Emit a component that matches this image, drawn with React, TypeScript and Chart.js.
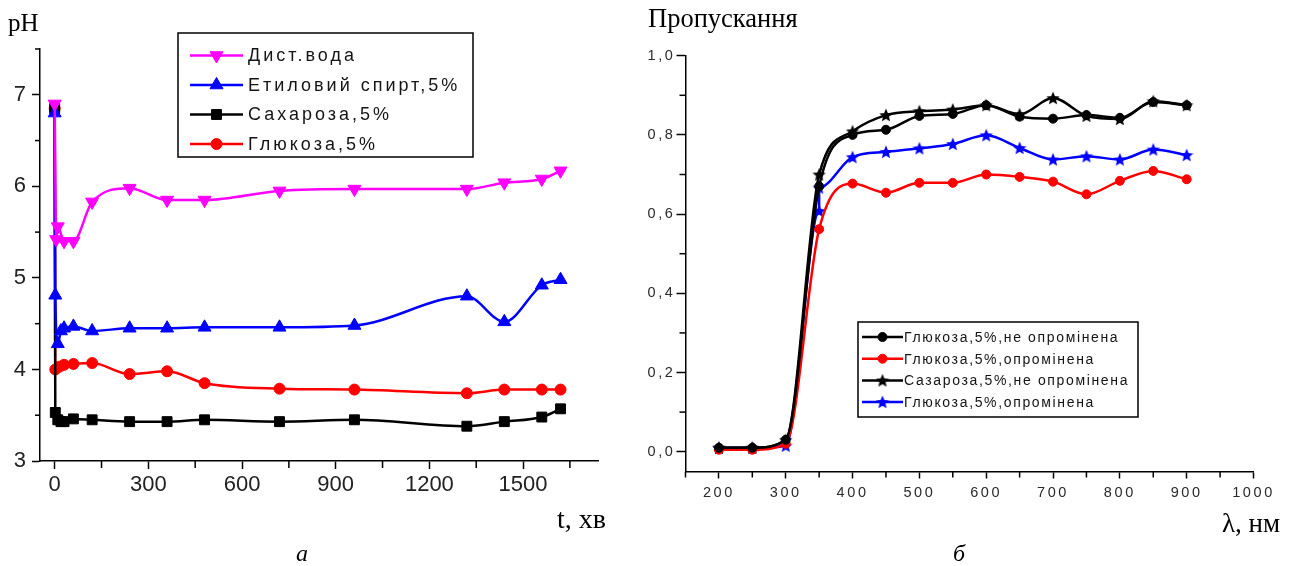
import React, { useEffect, useRef } from 'react';
import { Chart, registerables } from 'chart.js';
import { drawPoint } from 'chart.js/helpers';

Chart.register(...registerables);

// ---------- Panel а: pH vs time ----------
const tWater = [0, 5, 10, 30, 60, 120, 240, 360, 480, 720, 960, 1320, 1440, 1560, 1620];
const phWater = [6.9, 5.42, 5.56, 5.4, 5.4, 5.83, 5.98, 5.85, 5.85, 5.95, 5.97, 5.97, 6.04, 6.08, 6.17];

const tEthanol = [0, 2, 10, 20, 30, 60, 120, 240, 360, 480, 720, 960, 1320, 1440, 1560, 1620];
const phEthanol = [6.8, 4.81, 4.28, 4.42, 4.45, 4.47, 4.42, 4.45, 4.45, 4.46, 4.46, 4.48, 4.8, 4.52, 4.92, 4.98];

const tSucrose = [0, 2, 10, 20, 30, 60, 120, 240, 360, 480, 720, 960, 1320, 1440, 1560, 1620];
const phSucrose = [6.85, 3.53, 3.45, 3.43, 3.43, 3.46, 3.45, 3.43, 3.43, 3.45, 3.43, 3.45, 3.38, 3.43, 3.48, 3.57];

const tGlucose = [0, 2, 15, 30, 60, 120, 240, 360, 480, 720, 960, 1320, 1440, 1560, 1620];
const phGlucose = [6.85, 4.0, 4.03, 4.05, 4.06, 4.07, 3.95, 3.98, 3.85, 3.79, 3.78, 3.74, 3.78, 3.78, 3.78];

const xTicksA = [0, 300, 600, 900, 1200, 1500];
const yTicksA = [3, 4, 5, 6, 7];

const legendA = ['Дист.вода', 'Етиловий спирт,5%', 'Сахароза,5%', 'Глюкоза,5%'];

// ---------- Panel б: transmission vs wavelength ----------
const wl = [200, 250, 300, 350, 400, 450, 500, 550, 600, 650, 700, 750, 800, 850, 900];
const trGlucoseNon = [0.01, 0.01, 0.03, 0.67, 0.8, 0.813, 0.848, 0.853, 0.875, 0.846, 0.841, 0.85, 0.843, 0.883, 0.875];
const trGlucoseIrr = [0.005, 0.005, 0.02, 0.562, 0.677, 0.654, 0.679, 0.679, 0.7, 0.694, 0.682, 0.65, 0.684, 0.709, 0.688];
const trSucroseNon = [0.01, 0.01, 0.03, 0.7, 0.809, 0.85, 0.86, 0.864, 0.875, 0.852, 0.893, 0.848, 0.84, 0.885, 0.875];
const wlBlue = [200, 250, 300, 350, 350, 400, 450, 500, 550, 600, 650, 700, 750, 800, 850, 900];
const trGlucoseIrrBlue = [0.01, 0.01, 0.015, 0.608, 0.667, 0.744, 0.757, 0.766, 0.777, 0.799, 0.767, 0.738, 0.746, 0.738, 0.763, 0.749];

const xTicksB = [200, 300, 400, 500, 600, 700, 800, 900, 1000];
const yTicksB = [0, 0.2, 0.4, 0.6, 0.8, 1.0];

const legendB = [
  'Глюкоза,5%,не опромінена',
  'Глюкоза,5%,опромінена',
  'Сазароза,5%,не опромінена',
  'Глюкоза,5%,опромінена',
];

const MAGENTA = '#ff00ff';
const BLUE = '#0000ff';
const BLACK = '#000000';
const RED = '#ff0000';

function makeStar(color: string, size: number): HTMLCanvasElement {
  const c = document.createElement('canvas');
  c.width = size;
  c.height = size;
  const ctx = c.getContext('2d')!;
  const cx = size / 2;
  const cy = size / 2 + size * 0.04;
  const R = size / 2;
  const r = R * 0.45;
  ctx.beginPath();
  for (let i = 0; i < 10; i++) {
    const a = -Math.PI / 2 + (i * Math.PI) / 5;
    const rad = i % 2 === 0 ? R : r;
    ctx.lineTo(cx + rad * Math.cos(a), cy + rad * Math.sin(a));
  }
  ctx.closePath();
  ctx.fillStyle = color;
  ctx.fill();
  return c;
}

function series(label: string, xs: number[], ys: number[], color: string, style: any, radius: number, rotation = 0) {
  return {
    label,
    data: xs.map((x, i) => ({ x, y: ys[i] })),
    borderColor: color,
    backgroundColor: color,
    pointBackgroundColor: color,
    pointBorderColor: color,
    pointStyle: style,
    pointRadius: radius,
    pointHoverRadius: radius,
    pointRotation: rotation,
    pointBorderWidth: 1,
    borderWidth: 2.5,
    cubicInterpolationMode: 'monotone',
    fill: false,
  };
}

function isMajor(v: number, major: number) {
  const q = v / major;
  return Math.abs(q - Math.round(q)) < 1e-6;
}

function minorTicks(cfg: { xStep: number; xMajor: number; xLen: number; yStep: number; yMajor: number; yLen: number }) {
  return {
    id: 'minorTicks',
    afterDraw(chart: any) {
      const ctx = chart.ctx;
      const xs = chart.scales.x;
      const ys = chart.scales.y;
      const area = chart.chartArea;
      ctx.save();
      ctx.strokeStyle = '#000';
      ctx.lineWidth = 1.5;
      const kx0 = Math.ceil(xs.min / cfg.xStep - 1e-9);
      const kx1 = Math.floor(xs.max / cfg.xStep + 1e-9);
      for (let k = kx0; k <= kx1; k++) {
        const v = k * cfg.xStep;
        if (isMajor(v, cfg.xMajor)) continue;
        const px = xs.getPixelForValue(v);
        ctx.beginPath();
        ctx.moveTo(px, area.bottom);
        ctx.lineTo(px, area.bottom + cfg.xLen);
        ctx.stroke();
      }
      const ky0 = Math.ceil(ys.min / cfg.yStep - 1e-9);
      const ky1 = Math.floor(ys.max / cfg.yStep + 1e-9);
      for (let k = ky0; k <= ky1; k++) {
        const v = k * cfg.yStep;
        if (isMajor(v, cfg.yMajor)) continue;
        const py = ys.getPixelForValue(v);
        ctx.beginPath();
        ctx.moveTo(area.left, py);
        ctx.lineTo(area.left - cfg.yLen, py);
        ctx.stroke();
      }
      ctx.restore();
    },
  };
}

type LegendItem = { text: string; color: string; style: any; radius: number; rotation?: number };

function boxLegend(cfg: {
  box: [number, number, number, number];
  rows: number[];
  x1: number;
  x2: number;
  textX: number;
  font: string;
  spacing: string;
  items: LegendItem[];
}) {
  return {
    id: 'boxLegend',
    afterDraw(chart: any) {
      const ctx = chart.ctx;
      ctx.save();
      const [bx, by, bw, bh] = cfg.box;
      ctx.fillStyle = '#fff';
      ctx.fillRect(bx, by, bw, bh);
      ctx.strokeStyle = '#000';
      ctx.lineWidth = 1.5;
      ctx.strokeRect(bx, by, bw, bh);
      cfg.items.forEach((it, i) => {
        const y = cfg.rows[i];
        ctx.strokeStyle = it.color;
        ctx.fillStyle = it.color;
        ctx.lineWidth = 2.5;
        ctx.beginPath();
        ctx.moveTo(cfg.x1, y);
        ctx.lineTo(cfg.x2, y);
        ctx.stroke();
        ctx.lineWidth = 1;
        drawPoint(ctx, { pointStyle: it.style, radius: it.radius, rotation: it.rotation || 0, borderWidth: 1 } as any, (cfg.x1 + cfg.x2) / 2, y);
        ctx.fillStyle = '#141414';
        ctx.font = cfg.font;
        (ctx as any).letterSpacing = cfg.spacing;
        ctx.textBaseline = 'middle';
        ctx.textAlign = 'left';
        ctx.fillText(it.text, cfg.textX, y + 1);
        (ctx as any).letterSpacing = '0px';
      });
      ctx.restore();
    },
  };
}

const spacingPlugin = (sp: string) => ({
  id: 'tickSpacing',
  beforeDraw(chart: any) {
    (chart.ctx as any).letterSpacing = sp;
  },
  afterDraw(chart: any) {
    (chart.ctx as any).letterSpacing = '0px';
  },
});

const SANS = '"Liberation Sans", Arial, sans-serif';

function axisBase(tickLength: number) {
  return {
    border: { display: true, color: '#000', width: 1.5 },
    grid: { display: true, drawOnChartArea: false, drawTicks: true, tickColor: '#000', tickWidth: 1.5, tickLength },
  };
}

const setTicks = (values: number[]) => (scale: any) => {
  scale.ticks = values.map((v) => ({ value: v }));
};

function ChartA() {
  const ref = useRef<HTMLCanvasElement>(null);
  useEffect(() => {
    const canvas = ref.current!;
    const chart = new Chart(canvas, {
      type: 'line',
      data: {
        datasets: [
          series(legendA[0], tWater, phWater, MAGENTA, 'triangle', 7.5, 180),
          series(legendA[1], tEthanol, phEthanol, BLUE, 'triangle', 7.5),
          series(legendA[2], tSucrose, phSucrose, BLACK, 'rect', 7),
          series(legendA[3], tGlucose, phGlucose, RED, 'circle', 5.5),
        ] as any,
      },
      options: {
        animation: false,
        responsive: false,
        events: [],
        layout: { padding: { left: 0, right: 42, top: 49, bottom: 0 } },
        plugins: { legend: { display: false }, tooltip: { enabled: false } },
        scales: {
          x: {
            type: 'linear',
            min: -47,
            max: 1740,
            ...axisBase(8),
            afterBuildTicks: setTicks(xTicksA),
            ticks: {
              autoSkip: false,
              maxRotation: 0,
              color: '#222',
              padding: 3,
              font: { family: SANS, size: 22 },
              callback: (v: any) => String(v),
            },
            afterFit: (s: any) => {
              s.height = 105;
            },
          },
          y: {
            type: 'linear',
            min: 3,
            max: 7.5,
            ...axisBase(8),
            afterBuildTicks: setTicks(yTicksA),
            ticks: {
              autoSkip: false,
              color: '#222',
              padding: 6,
              font: { family: SANS, size: 22 },
              callback: (v: any) => String(v),
            },
            afterFit: (s: any) => {
              s.width = 40;
            },
          },
        },
      } as any,
      plugins: [
        minorTicks({ xStep: 150, xMajor: 300, xLen: 7, yStep: 0.5, yMajor: 1, yLen: 5 }),
        boxLegend({
          box: [178, 33, 295, 124],
          rows: [55.5, 85, 114.5, 144],
          x1: 190,
          x2: 243,
          textX: 248,
          font: '18px ' + SANS,
          spacing: '3px',
          items: [
            { text: legendA[0], color: MAGENTA, style: 'triangle', radius: 7.5, rotation: 180 },
            { text: legendA[1], color: BLUE, style: 'triangle', radius: 7.5 },
            { text: legendA[2], color: BLACK, style: 'rect', radius: 7 },
            { text: legendA[3], color: RED, style: 'circle', radius: 5.5 },
          ],
        }),
      ],
    });
    return () => chart.destroy();
  }, []);
  return <canvas ref={ref} width={640} height={566} style={{ position: 'absolute', left: 0, top: 0, width: 640, height: 566 }} />;
}

function ChartB() {
  const ref = useRef<HTMLCanvasElement>(null);
  useEffect(() => {
    const canvas = ref.current!;
    const starBlack = makeStar(BLACK, 14);
    const starBlue = makeStar(BLUE, 14);
    const fmt = (v: any) => Number(v).toFixed(1).replace('.', ',');
    const chart = new Chart(canvas, {
      type: 'line',
      data: {
        datasets: [
          series(legendB[0], wl, trGlucoseNon, BLACK, 'circle', 4.5),
          series(legendB[1], wl, trGlucoseIrr, RED, 'circle', 4.5),
          series(legendB[2], wl, trSucroseNon, BLACK, starBlack, 7),
          series(legendB[3], wlBlue, trGlucoseIrrBlue, BLUE, starBlue, 7),
        ] as any,
      },
      options: {
        animation: false,
        responsive: false,
        events: [],
        layout: { padding: { left: 0, right: 39.5, top: 55.7, bottom: 0 } },
        plugins: { legend: { display: false }, tooltip: { enabled: false } },
        scales: {
          x: {
            type: 'linear',
            min: 150,
            max: 1000,
            ...axisBase(7),
            afterBuildTicks: setTicks(xTicksB),
            ticks: {
              autoSkip: false,
              maxRotation: 0,
              color: '#2a2a2a',
              padding: 6,
              font: { family: SANS, size: 14.5 },
              callback: (v: any) => String(v),
            },
            afterFit: (s: any) => {
              s.height = 94.5;
            },
          },
          y: {
            type: 'linear',
            min: -0.05,
            max: 1.0,
            ...axisBase(9),
            afterBuildTicks: setTicks(yTicksB),
            ticks: {
              autoSkip: false,
              color: '#2a2a2a',
              padding: 1,
              font: { family: SANS, size: 14.5 },
              callback: fmt,
            },
            afterFit: (s: any) => {
              s.width = 45.5;
            },
          },
        },
      } as any,
      plugins: [
        spacingPlugin('2.6px'),
        minorTicks({ xStep: 50, xMajor: 100, xLen: 6, yStep: 0.1, yMajor: 0.2, yLen: 6 }),
        boxLegend({
          box: [218, 322, 280, 95],
          rows: [337, 358.7, 380.4, 402],
          x1: 222,
          x2: 263,
          textX: 264,
          font: '14px ' + SANS,
          spacing: '1.65px',
          items: [
            { text: legendB[0], color: BLACK, style: 'circle', radius: 4.5 },
            { text: legendB[1], color: RED, style: 'circle', radius: 4.5 },
            { text: legendB[2], color: BLACK, style: starBlack, radius: 7 },
            { text: legendB[3], color: BLUE, style: starBlue, radius: 7 },
          ],
        }),
      ],
    });
    return () => chart.destroy();
  }, []);
  return <canvas ref={ref} width={653} height={566} style={{ position: 'absolute', left: 640, top: 0, width: 653, height: 566 }} />;
}

const SERIF = '"Liberation Serif", "Times New Roman", serif';

function Label(props: { left: number; top: number; size: number; italic?: boolean; children: React.ReactNode }) {
  return (
    <div
      style={{
        position: 'absolute',
        left: props.left,
        top: props.top,
        fontFamily: SERIF,
        fontSize: props.size,
        lineHeight: 1,
        fontStyle: props.italic ? 'italic' : 'normal',
        color: '#000',
        whiteSpace: 'nowrap',
      }}
    >
      {props.children}
    </div>
  );
}

export default function App() {
  return (
    <div style={{ position: 'absolute', left: 0, top: 0, width: 1293, height: 566, background: '#fff', overflow: 'hidden' }}>
      <ChartA />
      <ChartB />
      <Label left={8} top={10} size={25}>pH</Label>
      <Label left={557} top={505} size={28}>t, хв</Label>
      <Label left={296} top={541} size={24} italic>а</Label>
      <Label left={648} top={5} size={26.5}>Пропускання</Label>
      <Label left={1222} top={510} size={27}>λ, нм</Label>
      <Label left={953} top={541} size={24} italic>б</Label>
    </div>
  );
}
